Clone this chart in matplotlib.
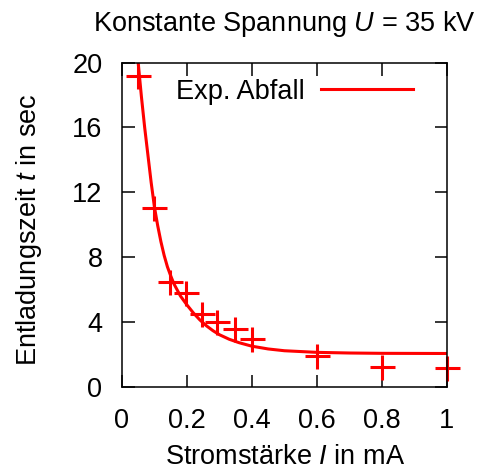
import matplotlib
matplotlib.use("Agg")
import matplotlib.pyplot as plt

# measured discharge times
current_mA = [0.05, 0.10, 0.148, 0.197, 0.245, 0.293, 0.348, 0.399, 0.60, 0.80, 1.00]
time_s = [19.2, 11.0, 6.45, 5.8, 4.47, 4.0, 3.56, 2.94, 1.9, 1.23, 1.13]

# fitted curve
fit_I = [0.05, 0.06, 0.07, 0.08, 0.09, 0.10, 0.11, 0.12, 0.13, 0.14, 0.15,
         0.16, 0.18, 0.20, 0.22, 0.24, 0.26, 0.28, 0.30, 0.33, 0.36, 0.40,
         0.45, 0.50, 0.60, 0.70, 0.80, 1.00]
fit_t = [20.0, 17.9, 16.0, 14.3, 12.6, 11.1, 9.95, 8.95, 8.1, 7.4, 6.85,
         6.35, 5.6, 5.05, 4.55, 4.12, 3.76, 3.46, 3.21, 2.93, 2.72, 2.5,
         2.33, 2.22, 2.12, 2.08, 2.06, 2.05]

x_ticks = [0, 0.2, 0.4, 0.6, 0.8, 1.0]
x_tick_labels = ["0", "0.2", "0.4", "0.6", "0.8", "1"]
y_ticks = [0, 4, 8, 12, 16, 20]

plt.rcParams["font.family"] = ["Liberation Sans", "DejaVu Sans"]
plt.rcParams["mathtext.fontset"] = "custom"
plt.rcParams["mathtext.rm"] = "Liberation Sans"
plt.rcParams["mathtext.it"] = "Liberation Sans:italic"
FS = 19.5

fig = plt.figure(figsize=(4.8, 4.72), dpi=100)
ax = fig.add_axes([0.254, 0.1807, 0.677, 0.6866])

ax.plot(fit_I, fit_t, color="#ff0000", lw=2.2, label="Exp. Abfall",
        solid_joinstyle="round")
ax.plot(current_mA, time_s, ls="none", marker="+", ms=18, mew=2.2,
        color="#ff0000", clip_on=False)

ax.set_xlim(0, 1)
ax.set_ylim(0, 20)
ax.set_xticks(x_ticks)
ax.set_xticklabels(x_tick_labels)
ax.set_yticks(y_ticks)
ax.tick_params(direction="in", length=9, width=1.1, top=True, right=True,
               labelsize=FS)
ax.tick_params(axis="x", pad=15)
ax.tick_params(axis="y", pad=14)
for s in ax.spines.values():
    s.set_linewidth(1.1)

ax.set_title("Konstante Spannung $U$ = 35 kV", fontsize=FS, pad=23)
ax.set_xlabel("Stromstärke $I$ in mA", fontsize=FS)
ax.set_ylabel("Entladungszeit $t$ in sec", fontsize=FS)
ax.xaxis.set_label_coords(0.502, -0.177)
ax.yaxis.set_label_coords(-0.24, 0.484)

ax.legend(loc="upper right", bbox_to_anchor=(0.895, 0.95), frameon=False,
          markerfirst=False, fontsize=FS, handlelength=3.4, handletextpad=0.6,
          borderpad=0, borderaxespad=0)

fig.savefig("out.png", dpi=100)
